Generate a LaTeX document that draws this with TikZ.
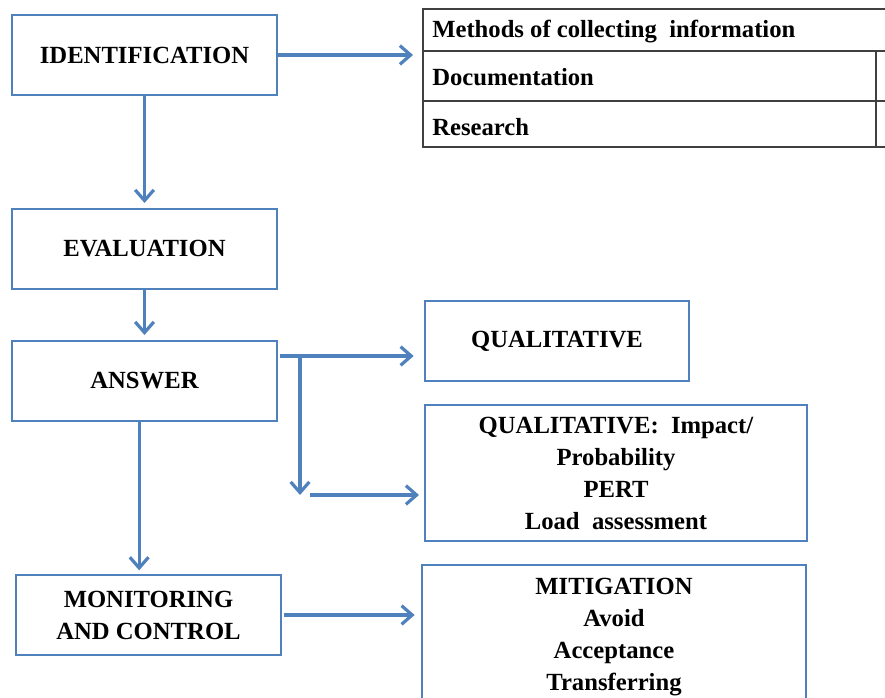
\documentclass[tikz,border=0pt]{standalone}
\usepackage{fontspec}
\setmainfont{Liberation Serif}
\usetikzlibrary{arrows.meta}
\definecolor{boxblue}{HTML}{4F81BD}
\definecolor{gridgray}{HTML}{404040}

\begin{document}
\begin{tikzpicture}[x=0.75pt,y=-0.75pt,
    txt/.style={font=\bfseries\fontsize{18.5}{24}\selectfont},
    flow/.style={draw=boxblue,line width=2.4pt,-{Straight Barb[length=8pt,width=14pt]}}]

        \clip (0,0) rectangle (885,698);

        \begin{scope}[every node/.style={txt,draw=boxblue,line width=1pt,align=center,
            inner sep=0pt,minimum width=198.75pt,minimum height=60pt}]
          \node (ident)  at (144.5,55)  {IDENTIFICATION};
          \node (eval)   at (144.5,249) {EVALUATION};
          \node (answer) at (144.5,381) {ANSWER};
          \node (monit)  at (148.5,615) {MONITORING\\AND CONTROL};
          \node[minimum width=198pt] (qual) at (557,341) {QUALITATIVE};
          \node[minimum width=286.5pt,minimum height=102pt] (quant) at (616,473)
            {QUALITATIVE:~ Impact/\\Probability\\PERT\\Load~ assessment};
          \node[minimum width=288pt,minimum height=108.75pt] (mitig) at (614,637.5)
            {MITIGATION\\Avoid\\Acceptance\\Transferring};
        \end{scope}

        % table of methods
        \begin{scope}[draw=gridgray,line width=1.4pt]
          \draw (900,9) -- (423,9) -- (423,147) -- (900,147);
          \draw (423,51) -- (900,51);
          \draw (423,101) -- (900,101);
          \draw (876,51) -- (876,147);
        \end{scope}
        \begin{scope}[every node/.style={txt,anchor=west,inner sep=0pt}]
          \node (methods) at (432,32)  {Methods of collecting~ information};
          \node (doc)     at (432,77)  {Documentation};
          \node (research) at (432,127) {Research};
        \end{scope}

        \coordinate (tabin)  at (413,55);
        \coordinate (ansout) at (280,356);
        \coordinate (split)  at (300,356);
        \coordinate (drop)   at (300,495);
        \coordinate (feed)   at (310,495);

        \begin{scope}[every edge/.style={flow}]
          \path (ident.east)  edge (tabin);
          \path (ident.south) edge[shorten >=4pt] (eval.north);
          \path (eval.south)  edge[shorten >=4pt] (answer.north);
          \path (ansout)      edge[shorten >=8pt] (qual.west |- ansout);
          \path (split)       edge (drop);
          \path (feed)        edge[shorten >=4pt] (quant.west |- feed);
          \path ([xshift=-4pt]answer.south) edge[shorten >=3pt] ([xshift=-7pt]monit.north);
          \path ([xshift=2pt]monit.east) edge[shorten >=5pt] (mitig.west |- monit.east);
        \end{scope}

      \end{tikzpicture}
\end{document}
